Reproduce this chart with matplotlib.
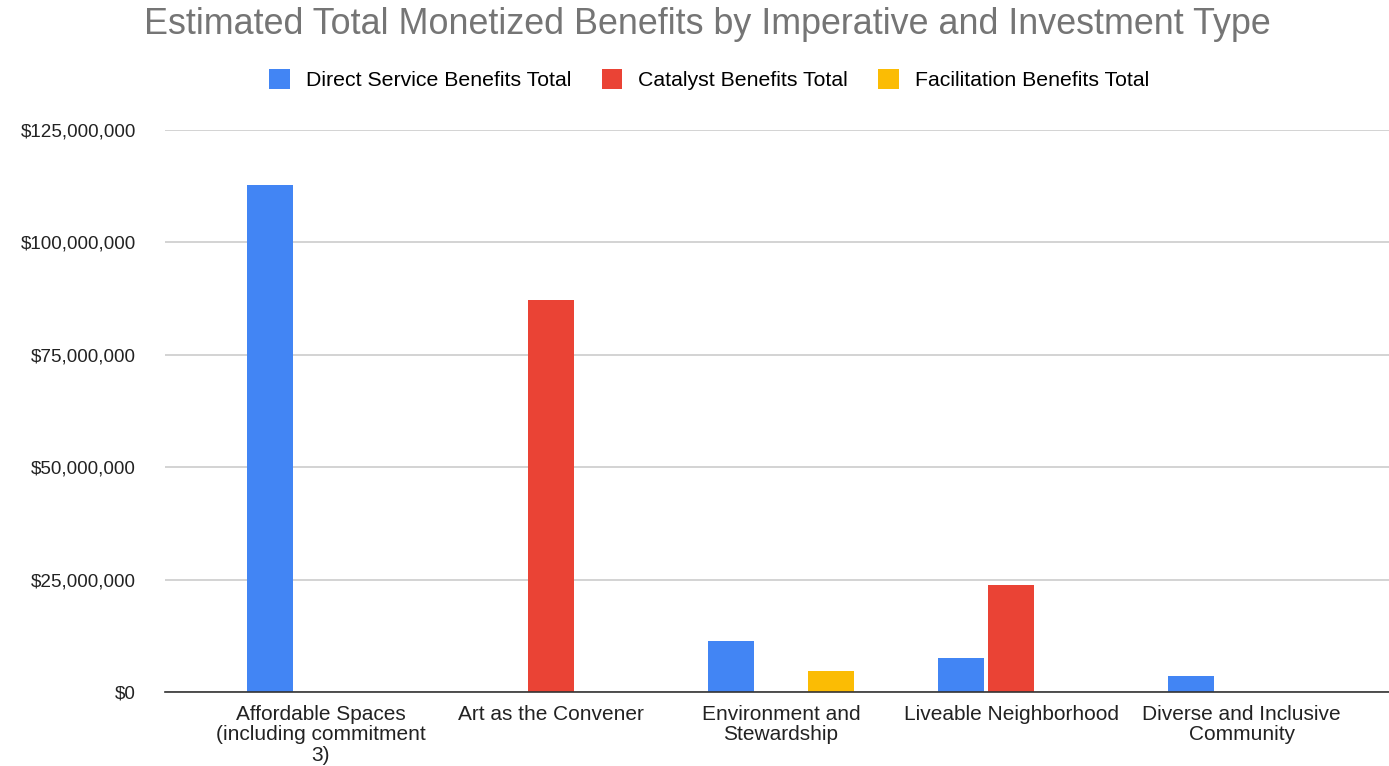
import matplotlib.pyplot as plt
import numpy as np
from matplotlib.patches import Patch
from matplotlib.ticker import FuncFormatter

categories = [
    "Affordable Spaces\n(including commitment\n3)",
    "Art as the Convener",
    "Environment and\nStewardship",
    "Liveable Neighborhood",
    "Diverse and Inclusive\nCommunity",
]
series_names = [
    "Direct Service Benefits Total",
    "Catalyst Benefits Total",
    "Facilitation Benefits Total",
]
direct_service = [112_700_000, 0, 11_400_000, 7_600_000, 3_600_000]
catalyst = [0, 87_100_000, 0, 23_800_000, 0]
facilitation = [0, 0, 4_700_000, 0, 0]
y_ticks = [0, 25_000_000, 50_000_000, 75_000_000, 100_000_000, 125_000_000]

colors = ["#4285F4", "#EA4335", "#FBBC04"]
plt.rcParams["font.family"] = ["Liberation Sans", "DejaVu Sans"]

fig = plt.figure(figsize=(13.89, 7.66), dpi=100)
ax = fig.add_axes([0.1188, 0.0966, 0.8812, 0.7337])

x = np.arange(len(categories))
pitch = 0.219
width = 0.2
for i, (vals, color) in enumerate(zip([direct_service, catalyst, facilitation], colors)):
    ax.bar(x + (i - 1) * pitch, vals, width=width, color=color, zorder=3)

ax.set_xlim(-0.675, 4.64)
ax.set_ylim(0, 125_000_000)
ax.set_yticks(y_ticks)
ax.yaxis.set_major_formatter(FuncFormatter(lambda v, _: f"${v:,.0f}"))
ax.set_xticks(x)
ax.set_xticklabels(categories, fontsize=15, color="#222222", linespacing=1.1)
ax.tick_params(axis="x", length=0, pad=9)
ax.tick_params(axis="y", length=0, pad=21, labelsize=13.6, labelcolor="#222222")

ax.grid(axis="y", color="#cccccc", linewidth=1.2, zorder=0)
for s in ["top", "right", "left"]:
    ax.spines[s].set_visible(False)
ax.spines["bottom"].set_color("#333333")
ax.spines["bottom"].set_linewidth(1.2)
ax.spines["bottom"].set_zorder(4)

fig.text(0.5095, 0.968, "Estimated Total Monetized Benefits by Imperative and Investment Type",
         ha="center", va="center", fontsize=25.8, color="#757575")

handles = [Patch(facecolor=c, edgecolor="none") for c in colors]
fig.legend(handles, series_names, loc="center", bbox_to_anchor=(0.5105, 0.896), ncol=3,
           frameon=False, fontsize=15.3, handlelength=0.95, handleheight=1.1,
           handletextpad=0.75, columnspacing=1.45)

fig.savefig("out.png", dpi=100)
